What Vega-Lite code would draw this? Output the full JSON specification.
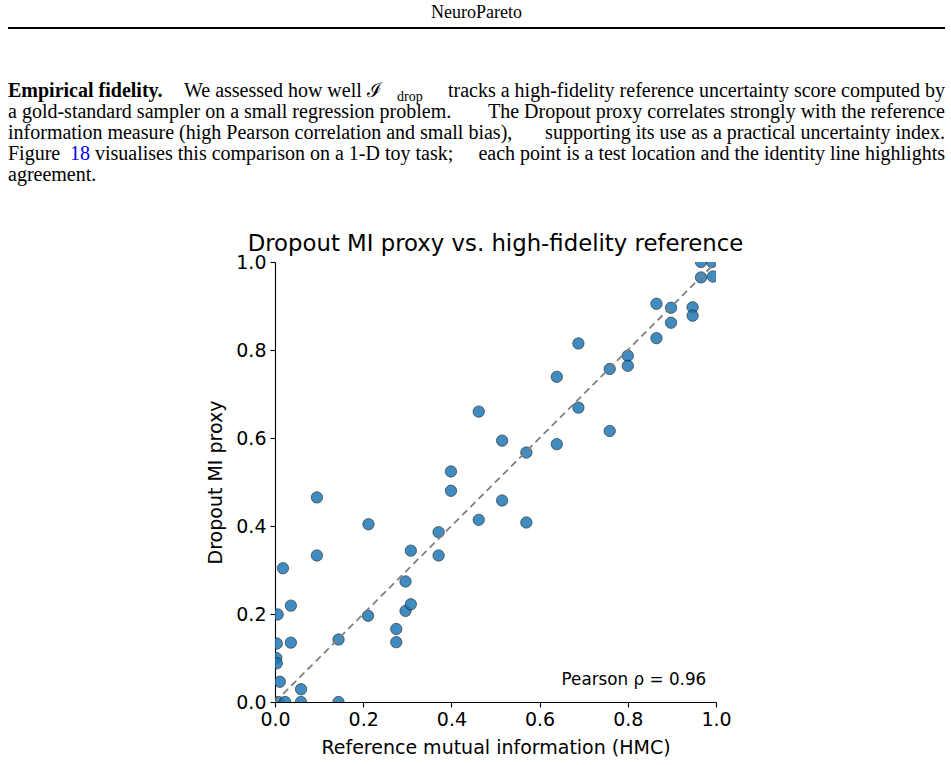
{
  "$schema": "https://vega.github.io/schema/vega-lite/v6.json",
  "padding": {"left": 7, "top": 3, "right": 7, "bottom": 0},
  "background": "white",
  "config": {
    "view": {"stroke": null},
    "axis": {
      "domainColor": "black", "domainWidth": 1.1,
      "tickColor": "black", "tickWidth": 1.1, "tickSize": 5,
      "labelFont": "DejaVu Sans", "labelFontSize": 19, "labelColor": "black", "labelPadding": 4,
      "titleFont": "DejaVu Sans", "titleFontSize": 19, "titleFontWeight": "normal", "titleColor": "black",
      "grid": false, "labelFlush": false
    }
  },
  "datasets": {
    "page": [
      {"line": 1, "part": "lead", "text": "Empirical fidelity."},
      {"line": 1, "part": "we", "text": "We assessed how well ℐ"},
      {"line": 1, "part": "sub", "text": "drop"},
      {"line": 1, "part": "R", "text": "tracks a high-fidelity reference uncertainty score computed by"},
      {"line": 2, "part": "L", "text": "a gold-standard sampler on a small regression problem."},
      {"line": 2, "part": "R", "text": "The Dropout proxy correlates strongly with the reference"},
      {"line": 3, "part": "L", "text": "information measure (high Pearson correlation and small bias),"},
      {"line": 3, "part": "R", "text": "supporting its use as a practical uncertainty index."},
      {"line": 4, "part": "L", "text": "Figure"},
      {"line": 4, "part": "ref", "text": "18"},
      {"line": 4, "part": "vis", "text": "visualises this comparison on a 1-D toy task;"},
      {"line": 4, "part": "R", "text": "each point is a test location and the identity line highlights"},
      {"line": 5, "part": "L", "text": "agreement."}
    ],
    "pts": [
      {"ref": 0.006, "proxy": 0.199}, {"ref": 0.018, "proxy": 0.304},
      {"ref": 0.036, "proxy": 0.219}, {"ref": 0.036, "proxy": 0.135},
      {"ref": 0.004, "proxy": 0.133}, {"ref": 0.003, "proxy": 0.1},
      {"ref": 0.004, "proxy": 0.088}, {"ref": 0.011, "proxy": 0.046},
      {"ref": 0.059, "proxy": 0.029}, {"ref": 0.059, "proxy": 0.0},
      {"ref": 0.008, "proxy": 0.0}, {"ref": 0.023, "proxy": 0.0},
      {"ref": 0.144, "proxy": 0.142}, {"ref": 0.144, "proxy": 0.0},
      {"ref": 0.095, "proxy": 0.465}, {"ref": 0.095, "proxy": 0.333},
      {"ref": 0.212, "proxy": 0.404}, {"ref": 0.211, "proxy": 0.196},
      {"ref": 0.275, "proxy": 0.166}, {"ref": 0.275, "proxy": 0.136},
      {"ref": 0.296, "proxy": 0.274}, {"ref": 0.296, "proxy": 0.207},
      {"ref": 0.308, "proxy": 0.222}, {"ref": 0.308, "proxy": 0.344},
      {"ref": 0.371, "proxy": 0.386}, {"ref": 0.371, "proxy": 0.333},
      {"ref": 0.399, "proxy": 0.524}, {"ref": 0.399, "proxy": 0.48},
      {"ref": 0.462, "proxy": 0.66}, {"ref": 0.462, "proxy": 0.414},
      {"ref": 0.515, "proxy": 0.594}, {"ref": 0.515, "proxy": 0.458},
      {"ref": 0.57, "proxy": 0.567}, {"ref": 0.57, "proxy": 0.408},
      {"ref": 0.639, "proxy": 0.739}, {"ref": 0.639, "proxy": 0.586},
      {"ref": 0.688, "proxy": 0.815}, {"ref": 0.688, "proxy": 0.669},
      {"ref": 0.759, "proxy": 0.757}, {"ref": 0.759, "proxy": 0.616},
      {"ref": 0.8, "proxy": 0.787}, {"ref": 0.8, "proxy": 0.764},
      {"ref": 0.865, "proxy": 0.905}, {"ref": 0.865, "proxy": 0.827},
      {"ref": 0.898, "proxy": 0.896}, {"ref": 0.898, "proxy": 0.862},
      {"ref": 0.947, "proxy": 0.897}, {"ref": 0.947, "proxy": 0.878},
      {"ref": 0.966, "proxy": 1.0}, {"ref": 0.966, "proxy": 0.965},
      {"ref": 0.991, "proxy": 1.0}, {"ref": 0.993, "proxy": 0.967}
    ],
    "diag": [{"ref": 0, "proxy": 0}, {"ref": 1, "proxy": 1}],
    "note": [{"label": "Pearson ρ = 0.96"}],
    "blank": [{"t": ""}]
  },
  "vconcat": [
    {
      "width": 937,
      "height": 157,
      "title": {"text": "NeuroPareto", "font": "Liberation Serif", "fontSize": 18, "fontWeight": "normal", "anchor": "middle", "color": "black", "offset": 6},
      "data": {"name": "page"},
      "encoding": {
        "y": {"field": "line", "type": "quantitative", "scale": {"domain": [-2, 5.476], "range": [0, 157]}, "axis": null},
        "x": {"datum": 0, "type": "quantitative", "scale": {"domain": [0, 1]}, "axis": null},
        "text": {"field": "text"}
      },
      "layer": [
        {
          "mark": {"type": "rule", "color": "black", "strokeWidth": 1},
          "encoding": {
            "y": {"datum": -2, "type": "quantitative", "scale": {"domain": [-2, 5.476], "range": [0, 157]}, "axis": null},
            "x": {"datum": 0, "type": "quantitative", "scale": {"domain": [0, 1]}, "axis": null},
            "x2": {"datum": 1}
          }
        },
        {
          "transform": [{"filter": "datum.part === 'lead'"}],
          "mark": {"type": "text", "align": "left", "baseline": "middle", "font": "Liberation Serif", "fontSize": 20, "fontWeight": "bold", "color": "black"}
        },
        {
          "transform": [{"filter": "datum.part === 'L'"}],
          "mark": {"type": "text", "align": "left", "baseline": "middle", "font": "Liberation Serif", "fontSize": 20, "color": "black"}
        },
        {
          "transform": [{"filter": "datum.part === 'R'"}],
          "mark": {"type": "text", "align": "right", "baseline": "middle", "font": "Liberation Serif", "fontSize": 20, "color": "black"},
          "encoding": {"x": {"datum": 1, "type": "quantitative", "scale": {"domain": [0, 1]}, "axis": null}}
        },
        {
          "transform": [{"filter": "datum.part === 'we'"}],
          "mark": {"type": "text", "align": "left", "baseline": "middle", "font": "Liberation Serif", "fontSize": 20, "color": "black", "dx": 176}
        },
        {
          "transform": [{"filter": "datum.part === 'sub'"}],
          "mark": {"type": "text", "align": "left", "baseline": "middle", "font": "Liberation Serif", "fontSize": 14, "color": "black", "dx": 389, "dy": 6}
        },
        {
          "transform": [{"filter": "datum.part === 'ref'"}],
          "mark": {"type": "text", "align": "left", "baseline": "middle", "font": "Liberation Serif", "fontSize": 20, "color": "#0000ee", "dx": 62}
        },
        {
          "transform": [{"filter": "datum.part === 'vis'"}],
          "mark": {"type": "text", "align": "left", "baseline": "middle", "font": "Liberation Serif", "fontSize": 20, "color": "black", "dx": 87}
        }
      ]
    },
    {
      "spacing": 0,
      "hconcat": [
        {
          "width": 198,
          "height": 20,
          "data": {"name": "blank"},
          "mark": {"type": "text"},
          "encoding": {"text": {"field": "t"}}
        },
        {
          "width": 441,
          "height": 440,
          "title": {"text": "Dropout MI proxy vs. high-fidelity reference", "font": "DejaVu Sans", "fontSize": 22.8, "fontWeight": "normal", "color": "black", "anchor": "middle", "frame": "group", "offset": -3},
          "layer": [
            {
              "data": {"name": "pts"},
              "mark": {"type": "circle", "size": 130, "fill": "#1f77b4", "opacity": 0.85, "stroke": "black", "strokeWidth": 0.6, "clip": true},
              "encoding": {
                "x": {"field": "ref", "type": "quantitative", "scale": {"domain": [0, 1], "nice": false, "zero": false},
                      "axis": {"title": "Reference mutual information (HMC)", "values": [0, 0.2, 0.4, 0.6, 0.8, 1.0], "format": ".1f", "labelPadding": 3, "titlePadding": 9}},
                "y": {"field": "proxy", "type": "quantitative", "scale": {"domain": [0, 1], "nice": false, "zero": false},
                      "axis": {"title": "Dropout MI proxy", "values": [0, 0.2, 0.4, 0.6, 0.8, 1.0], "format": ".1f", "titlePadding": 10}}
              }
            },
            {
              "data": {"name": "diag"},
              "mark": {"type": "line", "color": "gray", "strokeDash": [7, 4.5], "strokeWidth": 1.8, "clip": true},
              "encoding": {
                "x": {"field": "ref", "type": "quantitative"},
                "y": {"field": "proxy", "type": "quantitative"}
              }
            },
            {
              "data": {"name": "note"},
              "mark": {"type": "text", "align": "right", "baseline": "middle", "font": "DejaVu Sans", "fontSize": 16.8, "color": "black"},
              "encoding": {
                "x": {"datum": 0.978, "type": "quantitative"},
                "y": {"datum": 0.05, "type": "quantitative"},
                "text": {"field": "label"}
              }
            }
          ]
        }
      ]
    }
  ],
  "spacing": 47
}
